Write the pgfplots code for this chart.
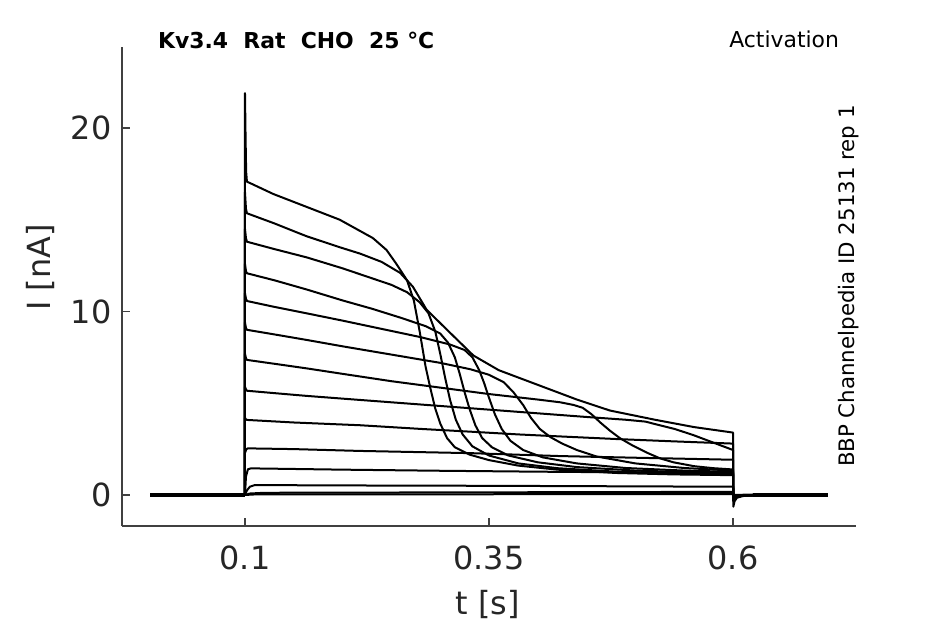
\documentclass[border=0pt]{standalone}
\usepackage{fontspec}
\setmainfont{DejaVu Sans}
\usepackage{pgfplots}
\pgfplotsset{compat=1.18}
\usetikzlibrary{calc}
\definecolor{tg}{HTML}{262626}
\pgfplotsset{tr/.style={black, solid, line width=1bp, line join=round, mark=none}}
\begin{document}
\begin{tikzpicture}
\begin{axis}[name=ax, scale only axis, width=367bp, height=239.5bp,
 xmin=-0.026, xmax=0.726, ymin=-1.69, ymax=24.41,
 axis x line*=bottom, axis y line*=left,
 axis line style={black!75, line width=0.6bp},
 xtick={0.1,0.35,0.6}, xticklabels={0.1,0.35,0.6},
 ytick={0,10,20},
 tick align=inside, major tick length=4bp,
 tick style={black!75, line width=0.6bp},
 tick label style={font=\fontsize{16}{19}\selectfont, text=tg},
 /pgf/number format/assume math mode=true,
 xticklabel style={yshift=-6.5bp},
 yticklabel style={xshift=-1.7bp},
 xlabel={t [s]}, ylabel={I [nA]},
 label style={font=\fontsize{16}{19}\selectfont, text=tg},
 x label style={at={(axis description cs:0.4986,-0.163)}, anchor=center},
 y label style={at={(axis description cs:-0.1117,0.54)}, anchor=center},
 clip=false,
 cycle list={{black,solid,mark=none}},
]
% baseline
\addplot[tr, line width=1.7bp] coordinates {(0.003,0)(0.1,0)};
\addplot[tr, line width=1.7bp] coordinates {(0.62,0)(0.697,0)};
% T1
\addplot[tr] coordinates {(0.003,0)(0.0999,0)(0.1,21.9)(0.1006,19.5)(0.1012,17.6)(0.102,17.07)(0.105,17.0)(0.129,16.4)(0.163,15.7)(0.197,15.0)(0.214,14.5)(0.231,14.0)(0.245,13.35)(0.255,12.6)(0.266,11.7)(0.273,10.6)(0.279,8.9)(0.285,7.0)(0.29,5.8)(0.295,4.7)(0.3,3.9)(0.307,3.1)(0.315,2.6)(0.33,2.2)(0.35,1.9)(0.38,1.6)(0.42,1.38)(0.48,1.2)(0.54,1.12)(0.6,1.08)(0.6003,-0.3)(0.603,-0.1)(0.61,-0.03)(0.63,0)(0.697,0)};
% T2
\addplot[tr] coordinates {(0.003,0)(0.0999,0)(0.1,16.5)(0.101,15.6)(0.102,15.35)(0.13,14.8)(0.163,14.1)(0.197,13.5)(0.218,13.15)(0.24,12.7)(0.259,12.1)(0.272,11.35)(0.286,10.1)(0.307,9.0)(0.334,7.6)(0.36,6.8)(0.4,6.0)(0.44,5.2)(0.474,4.6)(0.52,4.1)(0.56,3.7)(0.6,3.4)(0.6003,-0.64)(0.6015,-0.35)(0.604,-0.15)(0.61,-0.06)(0.62,0)(0.697,0)};
% T3
\addplot[tr] coordinates {(0.003,0)(0.0999,0)(0.1,14.5)(0.101,14.0)(0.102,13.8)(0.13,13.4)(0.163,12.95)(0.2,12.35)(0.225,11.9)(0.25,11.45)(0.266,11.05)(0.279,10.5)(0.288,9.9)(0.295,8.9)(0.3,7.7)(0.305,6.4)(0.31,5.2)(0.316,4.1)(0.323,3.3)(0.333,2.65)(0.35,2.15)(0.38,1.72)(0.42,1.46)(0.48,1.27)(0.54,1.18)(0.6,1.13)(0.6003,-0.3)(0.603,-0.1)(0.61,-0.03)(0.63,0)(0.697,0)};
% T4
\addplot[tr] coordinates {(0.003,0)(0.0999,0)(0.1,12.6)(0.101,12.2)(0.102,12.08)(0.13,11.7)(0.163,11.2)(0.2,10.6)(0.23,10.15)(0.26,9.65)(0.285,9.2)(0.3,8.8)(0.308,8.3)(0.315,7.5)(0.32,6.6)(0.325,5.6)(0.33,4.7)(0.336,3.8)(0.343,3.1)(0.353,2.6)(0.37,2.15)(0.4,1.78)(0.44,1.52)(0.5,1.33)(0.55,1.25)(0.6,1.18)(0.6003,-0.3)(0.603,-0.1)(0.61,-0.03)(0.63,0)(0.697,0)};
% T5
\addplot[tr] coordinates {(0.003,0)(0.0999,0)(0.1,11.0)(0.101,10.7)(0.102,10.57)(0.13,10.25)(0.163,9.9)(0.2,9.5)(0.24,9.05)(0.28,8.6)(0.31,8.2)(0.325,7.9)(0.333,7.5)(0.34,6.8)(0.345,6.1)(0.35,5.3)(0.356,4.4)(0.363,3.6)(0.372,2.95)(0.385,2.45)(0.405,2.05)(0.44,1.72)(0.49,1.47)(0.55,1.33)(0.6,1.26)(0.6003,-0.3)(0.603,-0.1)(0.61,-0.03)(0.63,0)(0.697,0)};
% T6
\addplot[tr] coordinates {(0.003,0)(0.0999,0)(0.1,9.4)(0.101,9.1)(0.102,9.0)(0.13,8.75)(0.163,8.45)(0.2,8.1)(0.25,7.65)(0.3,7.2)(0.331,6.85)(0.35,6.55)(0.365,6.15)(0.375,5.6)(0.385,4.9)(0.393,4.2)(0.402,3.6)(0.413,3.15)(0.425,2.8)(0.44,2.45)(0.46,2.1)(0.5,1.72)(0.55,1.47)(0.6,1.33)(0.6003,-0.3)(0.603,-0.1)(0.61,-0.03)(0.63,0)(0.697,0)};
% T7
\addplot[tr] coordinates {(0.003,0)(0.0999,0)(0.1,7.7)(0.101,7.45)(0.102,7.36)(0.13,7.15)(0.163,6.9)(0.2,6.6)(0.25,6.2)(0.3,5.85)(0.35,5.5)(0.4,5.2)(0.423,5.05)(0.437,4.9)(0.446,4.75)(0.455,4.4)(0.464,3.95)(0.474,3.5)(0.484,3.1)(0.497,2.7)(0.512,2.3)(0.525,2.0)(0.539,1.78)(0.56,1.57)(0.58,1.46)(0.6,1.39)(0.6003,-0.3)(0.603,-0.1)(0.61,-0.03)(0.63,0)(0.697,0)};
% T8
\addplot[tr] coordinates {(0.003,0)(0.0999,0)(0.1,5.9)(0.101,5.75)(0.102,5.68)(0.13,5.55)(0.163,5.4)(0.2,5.25)(0.25,5.05)(0.3,4.85)(0.35,4.65)(0.4,4.45)(0.45,4.25)(0.49,4.1)(0.51,4.0)(0.525,3.8)(0.54,3.6)(0.559,3.27)(0.575,2.95)(0.59,2.65)(0.6,2.45)(0.6003,-0.3)(0.603,-0.1)(0.61,-0.03)(0.63,0)(0.697,0)};
% T9
\addplot[tr] coordinates {(0.003,0)(0.0999,0)(0.1,4.2)(0.101,4.12)(0.102,4.09)(0.15,3.95)(0.218,3.8)(0.28,3.6)(0.331,3.45)(0.38,3.3)(0.423,3.19)(0.48,3.05)(0.54,2.92)(0.6,2.8)(0.6003,-0.3)(0.603,-0.1)(0.61,-0.03)(0.63,0)(0.697,0)};
% T10
\addplot[tr] coordinates {(0.003,0)(0.0999,0)(0.1,2.3)(0.1015,2.5)(0.103,2.54)(0.15,2.5)(0.218,2.4)(0.331,2.28)(0.423,2.12)(0.5,2.03)(0.6,1.92)(0.6003,-0.25)(0.603,-0.08)(0.61,-0.02)(0.63,0)(0.697,0)};
% T11
\addplot[tr] coordinates {(0.003,0)(0.1,0)(0.101,1.0)(0.103,1.4)(0.106,1.45)(0.2,1.38)(0.3,1.32)(0.4,1.27)(0.5,1.23)(0.6,1.2)(0.6003,-0.2)(0.603,-0.05)(0.62,0)(0.697,0)};
% T12
\addplot[tr] coordinates {(0.003,0)(0.1,0)(0.102,0.25)(0.105,0.45)(0.11,0.54)(0.2,0.52)(0.35,0.5)(0.6,0.45)(0.6003,-0.1)(0.61,0)(0.697,0)};
% T13
\addplot[tr] coordinates {(0.003,0)(0.1,0)(0.105,0.08)(0.12,0.12)(0.3,0.14)(0.6,0.17)(0.6003,-0.05)(0.61,0)(0.697,0)};
% T14
\addplot[tr] coordinates {(0.003,0)(0.1,0)(0.11,0.03)(0.6,0.05)(0.6003,0)(0.697,0)};

\node[anchor=west, font=\bfseries\fontsize{11}{13}\selectfont] at (rel axis cs:0.0395,1.0146) {Kv3.4\ \ Rat\ \ CHO\ \ 25 °C};
\node[anchor=east, font=\fontsize{11}{13}\selectfont] at (rel axis cs:0.9864,1.0167) {Activation};
\node[rotate=90, font=\fontsize{10.7}{13}\selectfont] at (rel axis cs:0.990,0.501) {BBP Channelpedia ID 25131 rep 1};
\end{axis}
\pgfresetboundingbox
\path[use as bounding box] ($(ax.south west)+(-61bp,-49bp)$) rectangle ($(ax.north east)+(44.5bp,23.5bp)$);
\end{tikzpicture}
\end{document}
